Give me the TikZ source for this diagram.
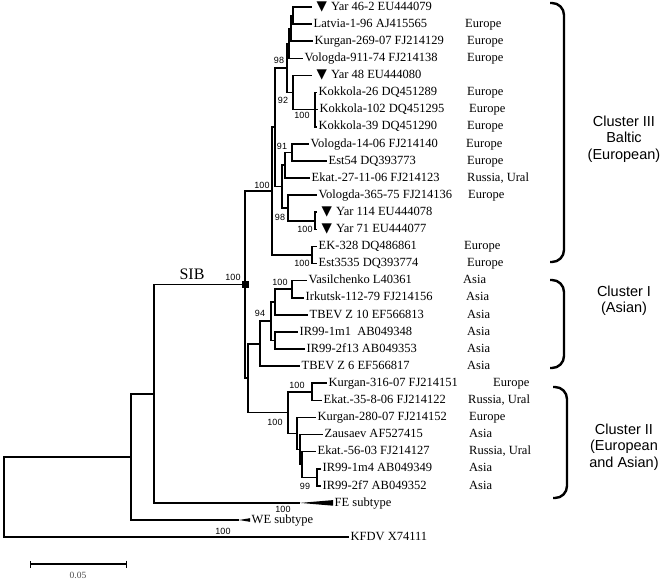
\documentclass[tikz,border=0pt]{standalone}
\usepackage{fontspec}
\setmainfont{Liberation Serif}
\newfontfamily\arialf{Liberation Sans}
\newfontfamily\dejavu{DejaVu Sans}
\usetikzlibrary{arrows.meta,positioning}
\newcommand{\yarmk}{\hspace{3pt}{\dejavu\fontsize{13.5}{14}\selectfont\char"25BC}\hspace{4pt}}
\tikzset{
  br/.style={line width=1.6pt},
  leaf/.style={anchor=west, inner sep=1.5pt, text height=8.5pt, text depth=2pt,
               font=\fontsize{12.5}{14}\selectfont},
  reg/.style={anchor=west, inner sep=0pt, text height=8.5pt, text depth=2pt,
              font=\fontsize{12.5}{14}\selectfont},
  bs/.style={inner sep=0pt, font=\arialf\fontsize{9}{10}\selectfont},
  brc/.style={line width=2.4pt, rounded corners=12pt},
  clab/.style={align=center, font=\arialf\fontsize{14.5}{16.5}\selectfont},
  sibsq/.style={fill=black, minimum size=7pt, inner sep=0pt},
  sbar/.style={line width=1.3pt, {Bar[width=7pt]}-{Bar[width=7pt]}},
}
\begin{document}
\begin{tikzpicture}[x=1pt, y=-1pt]
  \useasboundingbox (0,0) rectangle (662,579);
  % leaves
  \node[leaf] (yar46) at (312,7) {\yarmk Yar 46-2 EU444079};
  \node[leaf] (latvia) at (312,24.1) {Latvia-1-96 AJ415565};
  \node[leaf] (kurg269) at (313,41.2) {Kurgan-269-07 FJ214129};
  \node[leaf] (vol911) at (303,58.3) {Vologda-911-74 FJ214138};
  \node[leaf] (yar48) at (312,75.4) {\yarmk Yar 48 EU444080};
  \node[leaf] (kok26) at (317,92.5) {Kokkola-26 DQ451289};
  \node[leaf] (kok102) at (318,109.6) {Kokkola-102 DQ451295};
  \node[leaf] (kok39) at (317,126.7) {Kokkola-39 DQ451290};
  \node[leaf] (vol14) at (309,143.8) {Vologda-14-06 FJ214140};
  \node[leaf] (est54) at (327,160.9) {Est54 DQ393773};
  \node[leaf] (ekat27) at (310,178) {Ekat.-27-11-06 FJ214123};
  \node[leaf] (vol365) at (317,195.1) {Vologda-365-75 FJ214136};
  \node[leaf] (yar114) at (317,212.2) {\yarmk Yar 114 EU444078};
  \node[leaf] (yar71) at (317,229.3) {\yarmk Yar 71 EU444077};
  \node[leaf] (ek328) at (317,246.4) {EK-328 DQ486861};
  \node[leaf] (est3535) at (317,263.5) {Est3535 DQ393774};
  \node[leaf] (vasil) at (307,280.6) {Vasilchenko L40361};
  \node[leaf] (irk) at (304,297.7) {Irkutsk-112-79 FJ214156};
  \node[leaf] (z10) at (308,314.8) {TBEV Z 10 EF566813};
  \node[leaf] (ir1m1) at (298,331.9) {IR99-1m1\ \ AB049348};
  \node[leaf] (ir2f13) at (305,349) {IR99-2f13 AB049353};
  \node[leaf] (z6) at (300,366.1) {TBEV Z 6 EF566817};
  \node[leaf] (kurg316) at (327,383.2) {Kurgan-316-07 FJ214151};
  \node[leaf] (ekat35) at (322,400.3) {Ekat.-35-8-06 FJ214122};
  \node[leaf] (kurg280) at (316,417.4) {Kurgan-280-07 FJ214152};
  \node[leaf] (zaus) at (323,434.5) {Zausaev AF527415};
  \node[leaf] (ekat56) at (316,451.6) {Ekat.-56-03 FJ214127};
  \node[leaf] (ir1m4) at (321,468.7) {IR99-1m4 AB049349};
  \node[leaf] (ir2f7) at (321,485.8) {IR99-2f7 AB049352};
  \node[leaf] (fe) at (333,502.9) {FE subtype};
  \node[leaf] (we) at (250,520) {WE subtype};
  \node[leaf] (kfdv) at (349,537.1) {KFDV X74111};
  % origin of each strain
  \foreach \n/\x/\y/\t in {1/465/24.1/Europe, 2/467/41.2/Europe, 3/467/58.3/Europe,
      5/467/92.5/Europe, 6/469/109.6/Europe, 7/467/126.7/Europe, 8/466/143.8/Europe,
      9/467/160.9/Europe, 10/467/178/{Russia, Ural}, 11/468/195.1/Europe,
      14/464/246.4/Europe, 15/467/263.5/Europe, 16/463/280.6/Asia, 17/466/297.7/Asia,
      18/467/314.8/Asia, 19/467/331.9/Asia, 20/467/349/Asia, 21/467/366.1/Asia,
      22/493/383.2/Europe, 23/468/400.3/{Russia, Ural}, 24/469/417.4/Europe,
      25/469/434.5/Asia, 26/469/451.6/{Russia, Ural}, 27/469/468.7/Asia, 28/469/485.8/Asia}
    \node[reg] (r\n) at (\x,\y) {\t};
  % inner nodes
  \coordinate (a1) at (293,15.5);  \coordinate (a2) at (291,28.4);
  \coordinate (a3) at (289,43.3);  \coordinate (kok) at (315,109.6);
  \coordinate (a5) at (293,92.5);  \coordinate (a4) at (287,67.9);
  \coordinate (b1) at (292,152.3); \coordinate (b2) at (285,165.2);
  \coordinate (yar) at (315,220.7); \coordinate (b3) at (288,207.9);
  \coordinate (b4) at (282,186.5); \coordinate (a6) at (275,127.2);
  \coordinate (ek) at (312,255);   \coordinate (c3) at (272,191.1);
  \coordinate (v1) at (292,289.2); \coordinate (v2) at (275,302);
  \coordinate (v3) at (275,340.5); \coordinate (v4) at (271,321.2);
  \coordinate (c1) at (260,343.7);
  \coordinate (k1) at (312,391.8); \coordinate (ir) at (317,477.3);
  \coordinate (w1) at (302,464.4); \coordinate (w2) at (300,449.5);
  \coordinate (w3) at (297,433.4); \coordinate (c2) at (288,412.6);
  \coordinate (c12) at (248,378.1); \coordinate (sib) at (245,284.6);
  \coordinate (f1) at (154,393.7); \coordinate (wn) at (131,456.9);
  \coordinate (root) at (4,497);
  \coordinate (fetip) at (300,502.9); \coordinate (wetip) at (239,520);
  % cluster III
  \draw[br] (a1) |- (yar46.west) (a1) |- (latvia.west);
  \draw[br] (a2) |- (a1) (a2) |- (kurg269.west);
  \draw[br] (a3) |- (a2) (a3) |- (vol911.west);
  \draw[br] (kok) |- (kok26.west) (kok) |- (kok102.west) (kok) |- (kok39.west);
  \draw[br] (a5) |- (yar48.west) (a5) |- (kok);
  \draw[br] (a4) |- (a3) (a4) |- (a5);
  \draw[br] (b1) |- (vol14.west) (b1) |- (est54.west);
  \draw[br] (b2) |- (b1) (b2) |- (ekat27.west);
  \draw[br] (yar) |- (yar114.west) (yar) |- (yar71.west);
  \draw[br] (b3) |- (vol365.west) (b3) |- (yar);
  \draw[br] (b4) |- (b2) (b4) |- (b3);
  \draw[br] (a6) |- (a4) (a6) |- (b4);
  \draw[br] (ek) |- (ek328.west) (ek) |- (est3535.west);
  \draw[br] (c3) |- (a6) (c3) |- (ek);
  % cluster I
  \draw[br] (v1) |- (vasil.west) (v1) |- (irk.west);
  \draw[br] (v2) |- (v1) (v2) |- (z10.west);
  \draw[br] (v3) |- (ir1m1.west) (v3) |- (ir2f13.west);
  \draw[br] (v4) |- (v2) (v4) |- (v3);
  \draw[br] (c1) |- (v4) (c1) |- (z6.west);
  % cluster II
  \draw[br] (k1) |- (kurg316.west) (k1) |- (ekat35.west);
  \draw[br] (ir) |- (ir1m4.west) (ir) |- (ir2f7.west);
  \draw[br] (w1) |- (ekat56.west) (w1) |- (ir);
  \draw[br] (w2) |- (zaus.west) (w2) |- (w1);
  \draw[br] (w3) |- (kurg280.west) (w3) |- (w2);
  \draw[br] (c2) |- (k1) (c2) |- (w3);
  \draw[br] (c12) |- (c1) (c12) |- (c2);
  % deeper splits
  \draw[br] (sib) |- (c3) (sib) |- (c12);
  \draw[br] (f1) |- (sib) (f1) |- (fetip);
  \draw[br] (wn) |- (f1) (wn) |- (wetip);
  \draw[br] (root) |- (wn) (root) |- (kfdv.west);
  \fill (fetip) -- ([yshift=2.8pt]fe.west) -- ([yshift=-2.8pt]fe.west) -- cycle;
  \fill (wetip) -- ([yshift=1.8pt]we.west) -- ([yshift=-1.8pt]we.west) -- cycle;
  \node[sibsq] (sibsq) at (sib) {};
  \node[font=\fontsize{16}{18}\selectfont] (sibl) at (192,274) {SIB};
  % bootstrap values
  \node[bs] (bs1) at (279,60) {98};
  \node[bs] (bs2) at (283,100) {92};
  \node[bs] (bs3) at (302,115) {100};
  \node[bs] (bs4) at (282,146) {91};
  \node[bs] (bs5) at (262,185) {100};
  \node[bs] (bs6) at (280,217) {98};
  \node[bs] (bs7) at (305,229) {100};
  \node[bs] (bs8) at (302,263) {100};
  \node[bs] (bs9) at (233,277) {100};
  \node[bs] (bs10) at (280,282) {100};
  \node[bs] (bs11) at (260,313) {94};
  \node[bs] (bs12) at (297,385) {100};
  \node[bs] (bs13) at (275,422) {100};
  \node[bs] (bs14) at (305,486) {99};
  \node[bs] (bs15) at (283,509.3) {100};
  \node[bs] (bs16) at (223,531) {100};
  % clusters
  \draw[brc] (550,3) -- (564,3) -- (564,262) -- (550,262);
  \draw[brc] (550,280) -- (564,280) -- (564,368) -- (550,368);
  \draw[brc] (553,387) -- (567,387) -- (567,498) -- (553,498);
  \node[clab] (cl3) at (624,139) {Cluster III\\Baltic\\(European)};
  \node[clab] (cl1) at (624,300.5) {Cluster I\\(Asian)};
  \node[clab] (cl2) at (624,447) {Cluster II\\(European\\and Asian)};
  % scale
  \coordinate (s0) at (30,564); \coordinate (s1) at (127,564);
  \draw[sbar] (s0) -- (s1);
  \node[text=black!70, font=\fontsize{9.5}{11}\selectfont] (sbl) at (78,575) {0.05};
\end{tikzpicture}
\end{document}
